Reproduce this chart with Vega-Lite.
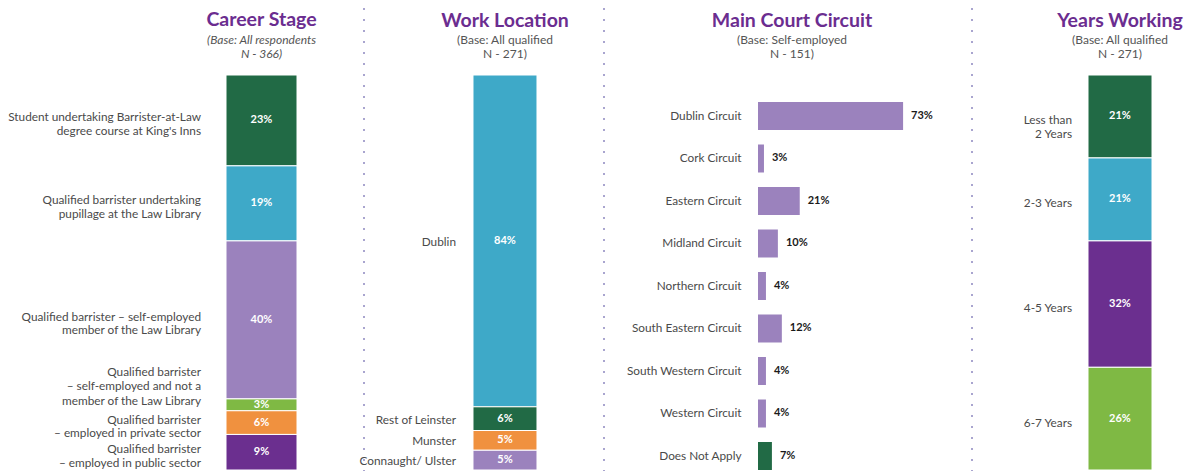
{
  "$schema": "https://vega.github.io/schema/vega-lite/v6.json",
  "padding": {"left": 8, "top": 7, "right": 2, "bottom": 0},
  "background": "white",
  "datasets": {
    "career": [
      {"panel": "Career Stage", "label": "Student undertaking Barrister-at-Law\ndegree course at King's Inns", "value": 0.23},
      {"panel": "Career Stage", "label": "Qualified barrister undertaking\npupillage at the Law Library", "value": 0.19},
      {"panel": "Career Stage", "label": "Qualified barrister – self-employed\nmember of the Law Library", "value": 0.40},
      {"panel": "Career Stage", "label": "Qualified barrister\n– self-employed and not a\nmember of the Law Library", "value": 0.03},
      {"panel": "Career Stage", "label": "Qualified barrister\n– employed in private sector", "value": 0.06},
      {"panel": "Career Stage", "label": "Qualified barrister\n– employed in public sector", "value": 0.09}
    ],
    "location": [
      {"panel": "Work Location", "label": "Dublin", "value": 0.84},
      {"panel": "Work Location", "label": "Rest of Leinster", "value": 0.06},
      {"panel": "Work Location", "label": "Munster", "value": 0.05},
      {"panel": "Work Location", "label": "Connaught/ Ulster", "value": 0.05}
    ],
    "circuit": [
      {"circuit": "Dublin Circuit", "value": 0.73},
      {"circuit": "Cork Circuit", "value": 0.03},
      {"circuit": "Eastern Circuit", "value": 0.21},
      {"circuit": "Midland Circuit", "value": 0.10},
      {"circuit": "Northern Circuit", "value": 0.04},
      {"circuit": "South Eastern Circuit", "value": 0.12},
      {"circuit": "South Western Circuit", "value": 0.04},
      {"circuit": "Western Circuit", "value": 0.04},
      {"circuit": "Does Not Apply", "value": 0.07}
    ],
    "years": [
      {"panel": "Years Working", "label": "Less than\n2 Years", "value": 0.21},
      {"panel": "Years Working", "label": "2-3 Years", "value": 0.21},
      {"panel": "Years Working", "label": "4-5 Years", "value": 0.32},
      {"panel": "Years Working", "label": "6-7 Years", "value": 0.26}
    ]
  },
  "bounds": "flush",
  "spacing": 170,
  "resolve": {"scale": {"color": "independent"}},
  "hconcat": [
    {
      "width": 71,
      "height": 395,
      "data": {"name": "career"},
      "title": {"text": "Career Stage", "subtitle": ["(Base: All respondents", "N - 366)"], "subtitleFontStyle": "italic"},
      "transform": [{"window": [{"op": "row_number", "as": "rank"}]}],
      "encoding": {
        "x": {"field": "panel", "type": "nominal", "axis": null, "scale": {"paddingInner": 0, "paddingOuter": 0}},
        "y": {"field": "value", "type": "quantitative", "stack": "zero", "axis": null, "scale": {"domain": [0, 1], "nice": false}},
        "detail": {"field": "label"},
        "order": {"field": "rank", "sort": "descending"}
      },
      "layer": [
        {
          "mark": {"type": "bar", "stroke": "#ffffff", "strokeWidth": 1},
          "encoding": {
            "color": {"field": "label", "type": "nominal", "legend": null,
              "scale": {"domain": ["Student undertaking Barrister-at-Law\ndegree course at King's Inns", "Qualified barrister undertaking\npupillage at the Law Library", "Qualified barrister – self-employed\nmember of the Law Library", "Qualified barrister\n– self-employed and not a\nmember of the Law Library", "Qualified barrister\n– employed in private sector", "Qualified barrister\n– employed in public sector"],
                "range": ["#216a45", "#3ea9c8", "#9b82bd", "#7fb944", "#f0913f", "#6b2f8f"]}}
          }
        },
        {
          "mark": {"type": "text", "align": "right", "baseline": "middle", "dx": -25, "dy": -3, "fontSize": 11.8, "lineBreak": "\n", "lineHeight": 13.5, "color": "#4a4a4a"},
          "encoding": {
            "x": {"field": "panel", "type": "nominal", "bandPosition": 0, "axis": null},
            "y": {"field": "value", "type": "quantitative", "stack": "zero", "bandPosition": 0.5, "axis": null},
            "text": {"field": "label"},
            "opacity": {"condition": {"test": "datum.value === 0.03", "value": 0}, "value": 1}
          }
        },
        {
          "mark": {"type": "text", "align": "right", "baseline": "middle", "dx": -25, "dy": -33, "fontSize": 11.8, "lineBreak": "\n", "lineHeight": 14.5, "color": "#4a4a4a"},
          "encoding": {
            "x": {"field": "panel", "type": "nominal", "bandPosition": 0, "axis": null},
            "y": {"field": "value", "type": "quantitative", "stack": "zero", "bandPosition": 0.5, "axis": null},
            "text": {"field": "label"},
            "opacity": {"condition": {"test": "datum.value === 0.03", "value": 1}, "value": 0}
          }
        },
        {
          "mark": {"type": "text", "baseline": "middle", "fontSize": 11, "fontWeight": "bold", "color": "#ffffff"},
          "encoding": {
            "y": {"field": "value", "type": "quantitative", "stack": "zero", "bandPosition": 0.5, "axis": null},
            "text": {"field": "value", "type": "quantitative", "format": ".0%"}
          }
        }
      ]
    },
    {
      "width": 121,
      "height": 395,
      "title": {"text": "Work Location", "subtitle": ["(Base: All qualified", "N - 271)"], "dx": -22.5, "offset": -54},
      "layer": [
        {
          "data": {"name": "location"},
          "transform": [{"window": [{"op": "row_number", "as": "rank"}]}],
          "encoding": {
            "x": {"field": "panel", "type": "nominal", "axis": null, "scale": {"paddingInner": 0, "paddingOuter": 0.4453, "align": 0.105}},
            "y": {"field": "value", "type": "quantitative", "stack": "zero", "axis": null, "scale": {"domain": [0, 1], "nice": false}},
            "detail": {"field": "label"},
            "order": {"field": "rank", "sort": "descending"}
          },
          "layer": [
            {
              "mark": {"type": "bar", "stroke": "#ffffff", "strokeWidth": 1},
              "encoding": {
                "color": {"field": "label", "type": "nominal", "legend": null,
                  "scale": {"domain": ["Dublin", "Rest of Leinster", "Munster", "Connaught/ Ulster"], "range": ["#3ea9c8", "#216a45", "#f0913f", "#9b82bd"]}}
              }
            },
            {
              "mark": {"type": "text", "align": "right", "baseline": "middle", "dx": -17, "dy": 1, "fontSize": 11.8, "color": "#4a4a4a"},
              "encoding": {
                "x": {"field": "panel", "type": "nominal", "bandPosition": 0, "axis": null},
                "y": {"field": "value", "type": "quantitative", "stack": "zero", "bandPosition": 0.5, "axis": null},
                "text": {"field": "label"}
              }
            },
            {
              "mark": {"type": "text", "baseline": "middle", "fontSize": 11, "fontWeight": "bold", "color": "#ffffff"},
              "encoding": {
                "y": {"field": "value", "type": "quantitative", "stack": "zero", "bandPosition": 0.5, "axis": null},
                "text": {"field": "value", "type": "quantitative", "format": ".0%"}
              }
            }
          ]
        },
        {
          "data": {"values": [{}]},
          "mark": {"type": "rule", "color": "#a9a5cf", "strokeWidth": 2, "strokeDash": [2, 9]},
          "encoding": {"x": {"value": -103}, "y": {"value": -67}, "y2": {"value": 396}}
        }
      ]
    },
    {
      "width": 160,
      "height": 395,
      "title": {"text": "Main Court Circuit", "subtitle": ["(Base: Self-employed", "N - 151)"], "dx": -46, "offset": -54},
      "layer": [
        {
          "data": {"name": "circuit"},
          "encoding": {
            "y": {"field": "circuit", "type": "nominal", "sort": null,
              "axis": {"title": null, "domain": false, "ticks": false, "labelPadding": 17, "labelFontSize": 11.8, "labelColor": "#4a4a4a", "labelFont": "Lato"},
              "scale": {"paddingInner": 0.341, "paddingOuter": 0.3176, "align": 1}},
            "x": {"field": "value", "type": "quantitative", "axis": null, "scale": {"domain": [0, 0.805], "nice": false}}
          },
          "layer": [
            {
              "mark": {"type": "bar"},
              "encoding": {"color": {"condition": {"test": "datum.circuit === 'Does Not Apply'", "value": "#216a45"}, "value": "#9b82bd"}}
            },
            {
              "mark": {"type": "text", "align": "left", "baseline": "middle", "dx": 8, "fontSize": 11, "fontWeight": "bold", "color": "#1a1a1a"},
              "encoding": {"text": {"field": "value", "type": "quantitative", "format": ".0%"}}
            }
          ]
        },
        {
          "data": {"values": [{}]},
          "mark": {"type": "rule", "color": "#a9a5cf", "strokeWidth": 2, "strokeDash": [2, 9]},
          "encoding": {"x": {"value": -154}, "y": {"value": -67}, "y2": {"value": 396}}
        }
      ]
    },
    {
      "width": 64,
      "height": 395,
      "title": {"text": "Years Working", "subtitle": ["(Base: All qualified", "N - 271)"], "offset": -54},
      "layer": [
        {
          "data": {"name": "years"},
          "transform": [{"window": [{"op": "row_number", "as": "rank"}]}],
          "encoding": {
            "x": {"field": "panel", "type": "nominal", "axis": null, "scale": {"paddingInner": 0, "paddingOuter": 0}},
            "y": {"field": "value", "type": "quantitative", "stack": "zero", "axis": null, "scale": {"domain": [0, 1], "nice": false}},
            "detail": {"field": "label"},
            "order": {"field": "rank", "sort": "descending"}
          },
          "layer": [
            {
              "mark": {"type": "bar", "stroke": "#ffffff", "strokeWidth": 1},
              "encoding": {
                "color": {"field": "label", "type": "nominal", "legend": null,
                  "scale": {"domain": ["Less than\n2 Years", "2-3 Years", "4-5 Years", "6-7 Years"], "range": ["#216a45", "#3ea9c8", "#6b2f8f", "#7fb944"]}}
              }
            },
            {
              "mark": {"type": "text", "align": "right", "baseline": "middle", "dx": -16, "dy": 4, "fontSize": 11.8, "lineBreak": "\n", "lineHeight": 14, "color": "#4a4a4a"},
              "encoding": {
                "x": {"field": "panel", "type": "nominal", "bandPosition": 0, "axis": null},
                "y": {"field": "value", "type": "quantitative", "stack": "zero", "bandPosition": 0.5, "axis": null},
                "text": {"field": "label"}
              }
            },
            {
              "mark": {"type": "text", "baseline": "middle", "fontSize": 11, "fontWeight": "bold", "color": "#ffffff"},
              "encoding": {
                "y": {"field": "value", "type": "quantitative", "stack": "zero", "bandPosition": 0.5, "axis": null},
                "text": {"field": "value", "type": "quantitative", "format": ".0%"}
              }
            }
          ]
        },
        {
          "data": {"values": [{}]},
          "mark": {"type": "rule", "color": "#a9a5cf", "strokeWidth": 2, "strokeDash": [2, 9]},
          "encoding": {"x": {"value": -116}, "y": {"value": -67}, "y2": {"value": 396}}
        }
      ]
    }
  ],
  "config": {
    "font": "Lato",
    "view": {"stroke": null},
    "text": {"font": "Lato"},
    "title": {
      "font": "Lato", "fontSize": 19.5, "fontWeight": "bold", "color": "#6b2d90",
      "subtitleFont": "Lato", "subtitleFontSize": 12, "subtitleColor": "#555555", "subtitleLineHeight": 14, "subtitlePadding": 4,
      "anchor": "middle", "frame": "group", "offset": 14
    }
  }
}
